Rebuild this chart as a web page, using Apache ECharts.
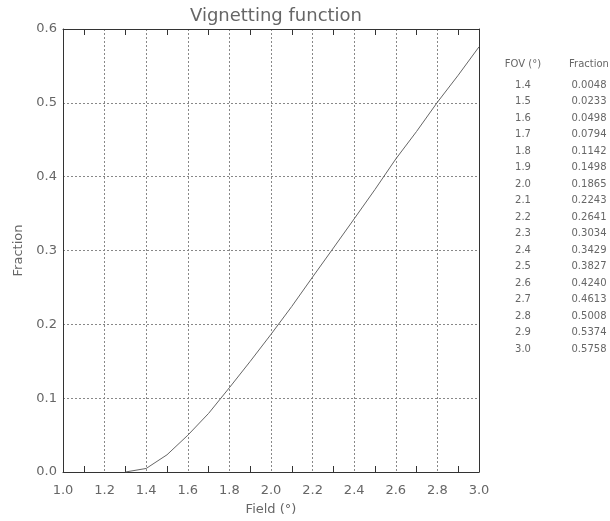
<!DOCTYPE html>
<html><head><meta charset="utf-8">
<script src="https://cdn.jsdelivr.net/npm/echarts@6/dist/echarts.min.js"></script>
<style>html,body{margin:0;padding:0;background:#fff}#c{width:610px;height:521px}</style>
</head><body><div id="c"></div>
<script>
var fov = [1.3, 1.4, 1.5, 1.6, 1.7, 1.8, 1.9, 2.0, 2.1, 2.2, 2.3, 2.4, 2.5, 2.6, 2.7, 2.8, 2.9, 3.0];
var fraction = [0.0, 0.0048, 0.0233, 0.0498, 0.0794, 0.1142, 0.1498, 0.1865, 0.2243, 0.2641, 0.3034, 0.3429, 0.3827, 0.4240, 0.4613, 0.5008, 0.5374, 0.5758];
var tableFov = ['1.4','1.5','1.6','1.7','1.8','1.9','2.0','2.1','2.2','2.3','2.4','2.5','2.6','2.7','2.8','2.9','3.0'];
var tableFrac = ['0.0048','0.0233','0.0498','0.0794','0.1142','0.1498','0.1865','0.2243','0.2641','0.3034','0.3429','0.3827','0.4240','0.4613','0.5008','0.5374','0.5758'];
var tableHead = ['FOV (°)', 'Fraction'];

var FONT = 'DejaVu Sans';
var TXT = '#666';
var chart = echarts.init(document.getElementById('c'), null, {renderer:'canvas'});

var TF = '10px "DejaVu Sans"';
var g = [];
g.push({type:'text', x:523, y:64, style:{text:tableHead[0], font:TF, fill:TXT, textAlign:'center', textVerticalAlign:'middle'}});
g.push({type:'text', x:589, y:64, style:{text:tableHead[1], font:TF, fill:TXT, textAlign:'center', textVerticalAlign:'middle'}});
for (var i = 0; i < tableFov.length; i++) {
  var yy = 85 + i * 16.5;
  g.push({type:'text', x:523, y:yy, style:{text:tableFov[i], font:TF, fill:TXT, textAlign:'center', textVerticalAlign:'middle'}});
  g.push({type:'text', x:589, y:yy, style:{text:tableFrac[i], font:TF, fill:TXT, textAlign:'center', textVerticalAlign:'middle'}});
}

var data = fov.map(function(v, i){ return [v, fraction[i]]; });

chart.setOption({
  animation:false,
  backgroundColor:'#fff',
  title:{text:'Vignetting function', left:271, top:2, textAlign:'center',
    textStyle:{fontFamily:FONT, fontWeight:'normal', fontSize:18, color:TXT}},
  grid:{left:63, right:131, top:29, bottom:45, containLabel:false},
  xAxis:[{
    type:'value', min:1.0, max:3.0, interval:0.2,
    name:'Field (°)', nameLocation:'middle', nameGap:31,
    nameTextStyle:{fontFamily:FONT, fontSize:13, color:TXT},
    axisLine:{show:true, onZero:false, lineStyle:{color:'#333', width:1}},
    axisTick:{show:false, inside:true},
    minorTick:{show:true, splitNumber:2, length:6, lineStyle:{color:'#333'}},
    axisLabel:{fontFamily:FONT, fontSize:13, color:TXT, margin:12, formatter:function(v){return v.toFixed(1);}},
    splitLine:{show:true, lineStyle:{color:'#888', type:[2,2], width:1}}
  },{
    type:'value', min:1.0, max:3.0, interval:0.2, position:'top',
    axisLine:{show:true, onZero:false, lineStyle:{color:'#333', width:1}},
    axisTick:{show:false, inside:true},
    minorTick:{show:true, splitNumber:2, length:6, lineStyle:{color:'#333'}},
    axisLabel:{show:false}, splitLine:{show:false}
  }],
  yAxis:[{
    type:'value', min:0, max:0.6, interval:0.1,
    name:'Fraction', nameLocation:'middle', nameGap:36, nameRotate:90,
    nameTextStyle:{fontFamily:FONT, fontSize:13, color:TXT},
    axisLine:{show:true, onZero:false, lineStyle:{color:'#333', width:1}},
    axisTick:{show:false},
    axisLabel:{fontFamily:FONT, fontSize:13, color:TXT, margin:6, formatter:function(v){return v.toFixed(1);}},
    splitLine:{show:true, lineStyle:{color:'#888', type:[2,2], width:1}}
  },{
    type:'value', min:0, max:0.6, interval:0.1, position:'right',
    axisLine:{show:true, onZero:false, lineStyle:{color:'#333', width:1}},
    axisTick:{show:false}, axisLabel:{show:false}, splitLine:{show:false}
  }],
  series:[{
    type:'line', data:data, showSymbol:false, symbol:'none',
    lineStyle:{color:'#666', width:1}, silent:true
  }],
  graphic:g
});
</script>
</body></html>
